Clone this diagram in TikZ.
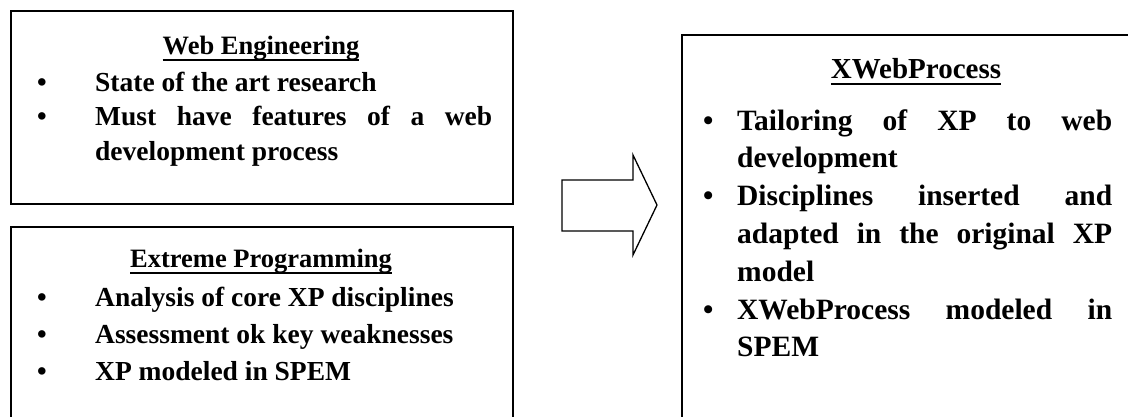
\documentclass[tikz,border=0pt]{standalone}
\usepackage{fontspec}
\setmainfont{Liberation Serif}
\newlength{\bulletgap}
% paragraph settings for the bullet lists: no hyphenation, spaces that only stretch
\newcommand{\listsetup}[2]{\setlength{\bulletgap}{#1}\baselineskip=#2\relax
  \hyphenpenalty=10000 \exhyphenpenalty=10000
  \spaceskip=0.25em plus 2em\relax}
% one bullet item with a hanging indent
\newcommand{\bitem}[1]{{\hangindent=\bulletgap\hangafter=1\noindent
  \makebox[\bulletgap][l]{\textbullet}#1\par}}
% heavy underline placed below the descenders
\newcommand{\heavyul}[1]{\setbox0\hbox{#1}\rlap{\rule[-6.5pt]{\wd0}{2pt}}\box0}
\tikzset{
  frame/.style={draw, line width=2pt, rectangle, inner sep=0pt, anchor=north west},
  heading/.style={inner sep=0pt, anchor=base, font=\fontsize{26.5}{37}\selectfont\bfseries},
  bigheading/.style={heading, font=\fontsize{29}{37}\selectfont\bfseries},
  itemlist/.style={inner sep=0pt, anchor=base west, align=justify,
    font=\fontsize{27.5}{37}\selectfont\bfseries},
  biglist/.style={itemlist, font=\fontsize{29.5}{38}\selectfont\bfseries},
  flowarrow/.style={draw, line width=1.3pt, line join=miter}
}
\begin{document}
\begin{tikzpicture}[x=1pt,y=-1pt]
\useasboundingbox (0,0) rectangle (1128,416);
\clip (0,0) rectangle (1128,416);

% left column: two source boxes
\node[frame, minimum width=502pt, minimum height=193pt] (web) at (10,10) {};
\node[heading] (webT) at (261,54) {\heavyul{Web Engineering}};
\node[itemlist, text width=455pt] (webL) at (37,91)
  {\listsetup{58pt}{34.5pt}%
   \bitem{State of the art research}%
   \bitem{Must have features of a web development process}};

\node[frame, minimum width=502pt, minimum height=230pt] (xp) at (10,226) {};
\node[heading] (xpT) at (261,267) {\heavyul{Extreme Programming}};
\node[itemlist, text width=455pt] (xpL) at (37,306)
  {\listsetup{58pt}{37pt}%
   \bitem{Analysis of core XP disciplines}%
   \bitem{Assessment ok key weaknesses}%
   \bitem{XP modeled in SPEM}};

% right column: resulting process
\node[frame, minimum width=480pt, minimum height=420pt] (xweb) at (681,34) {};
\node[bigheading] (xwebT) at (916,78) {\heavyul{XWebProcess}};
\node[biglist, text width=409pt] (xwebL) at (703,130)
  {\listsetup{34pt}{37.8pt}%
   \bitem{Tailoring of XP to web development}%
   \bitem{Disciplines inserted and adapted in the original XP model}%
   \bitem{XWebProcess modeled in SPEM}};

% block arrow between the columns
\draw[flowarrow] (562,180) -- (633,180) -- (633,155) -- (657,205)
  -- (633,255) -- (633,231) -- (562,231) -- cycle;
\end{tikzpicture}
\end{document}
